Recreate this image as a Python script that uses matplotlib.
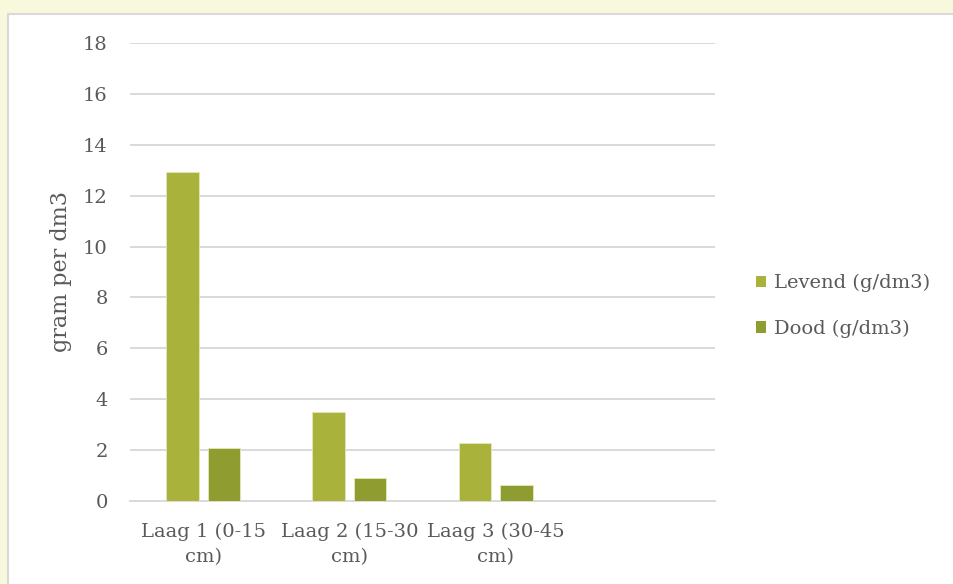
import matplotlib
matplotlib.use("Agg")
import matplotlib.pyplot as plt
from matplotlib.patches import Rectangle, Patch
import numpy as np

categories = ["Laag 1 (0-15\ncm)", "Laag 2 (15-30\ncm)", "Laag 3 (30-45\ncm)", ""]
levend = [12.93, 3.51, 2.29, None]
dood = [2.07, 0.92, 0.62, None]
series_names = ["Levend (g/dm3)", "Dood (g/dm3)"]
y_label = "gram per dm3"
y_ticks = [0, 2, 4, 6, 8, 10, 12, 14, 16, 18]

c_levend = "#A9B23A"
c_dood = "#8E9C30"
text_col = "#595959"
grid_col = "#D9D9D9"

plt.rcParams['font.family'] = ['DejaVu Serif']

fig = plt.figure(figsize=(9.54, 5.84), dpi=100)
fig.patch.set_facecolor("#F8F8DC")
# white chart area with border
bg = Rectangle((8/954, -0.1), 1.2, (584-14)/584 + 0.1,
               transform=fig.transFigure, facecolor="white",
               edgecolor=grid_col, linewidth=1.5, zorder=-10)
fig.patches.append(bg)

ax = fig.add_axes([130/954, 1-501/584, (715-130)/954, (501-43)/584])
ax.set_zorder(1)
ax.set_facecolor("none")

x = np.arange(len(categories))
w = 0.222
off = 0.142
lv = [v if v is not None else 0 for v in levend]
dd = [v if v is not None else 0 for v in dood]
ax.bar(x - off, lv, width=w, color=c_levend, edgecolor="#E4E8B8", linewidth=0.6, zorder=3)
ax.bar(x + off, dd, width=w, color=c_dood, edgecolor="#E4E8B8", linewidth=0.6, zorder=3)

ax.set_xlim(-0.5, len(categories) - 0.5)
ax.set_ylim(0, 18)
ax.set_yticks(y_ticks)
ax.set_xticks(x)
fs = 14
ax.set_xticklabels(categories, color=text_col, fontsize=fs, linespacing=1.45)
ax.tick_params(axis='y', length=0, pad=16, labelsize=fs, labelcolor=text_col)
ax.tick_params(axis='x', length=0, pad=16)
ax.yaxis.grid(True, color=grid_col, linewidth=1.4, zorder=0)
ax.set_axisbelow(True)
for s in ["top", "right", "left"]:
    ax.spines[s].set_visible(False)
ax.spines["bottom"].set_color(grid_col)
ax.spines["bottom"].set_linewidth(1.4)

ax.set_ylabel(y_label, fontsize=16, color=text_col, labelpad=8)

handles = [Patch(facecolor=c_levend, edgecolor="none"), Patch(facecolor=c_dood, edgecolor="none")]
leg = fig.legend(handles, series_names, loc="center left",
                 bbox_to_anchor=(738/954, 1-306/584), frameon=False,
                 fontsize=fs, handlelength=0.55, handleheight=0.55,
                 handletextpad=0.4, labelspacing=1.4, labelcolor=text_col)

fig.savefig("out.png", dpi=100, facecolor=fig.get_facecolor())
